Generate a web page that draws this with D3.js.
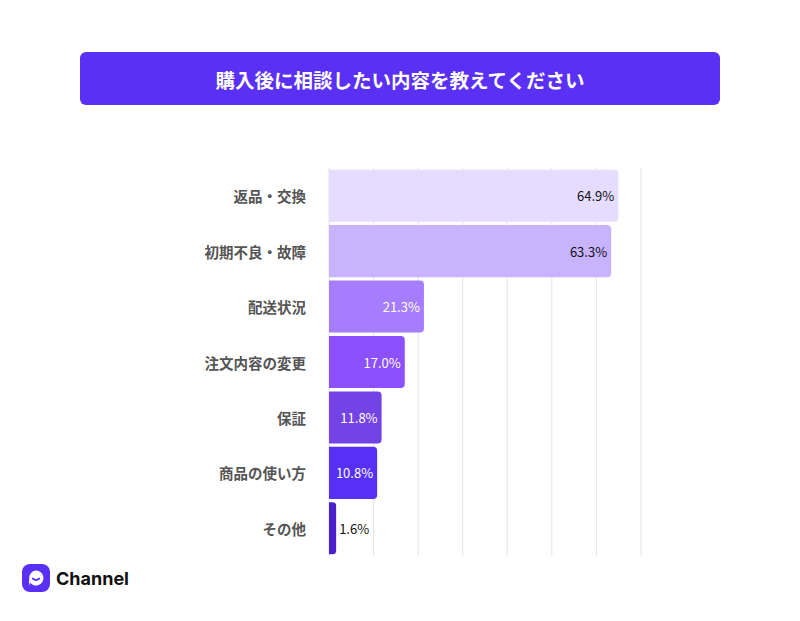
<!doctype html>
<meta charset="utf-8">
<script src="https://d3js.org/d3.v7.min.js"></script>
<style>
  body { margin: 0; background: #fff; }
  text { font-family: "Noto Sans CJK JP", "Noto Sans", sans-serif; }
</style>
<body></body>
<script>

var width = 800;
var height = 621;

var title = "購入後に相談したい内容を教えてください";
var categories = ["返品・交換", "初期不良・故障", "配送状況", "注文内容の変更", "保証", "商品の使い方", "その他"];
var values = [64.9, 63.3, 21.3, 17.0, 11.8, 10.8, 1.6];
var barColors = ["#e5dcff", "#c8b3ff", "#a77dff", "#8d50ff", "#7443e6", "#5631f5", "#4a20cc"];
var labelColors = ["#111", "#111", "#fff", "#fff", "#fff", "#fff", "#111"];
var gridTicks = [0, 10, 20, 30, 40, 50, 60, 70];

var svg = d3.select("body")
        .append("svg")
        .attr("width", width)
        .attr("height", height);

// title banner
svg.append("rect")
        .attr("x", 80)
        .attr("y", 52)
        .attr("width", 640)
        .attr("height", 53)
        .attr("rx", 6)
        .style("fill", "#5a30f4");

svg.append("text")
        .attr("x", 400)
        .attr("y", 79)
        .attr("text-anchor", "middle")
        .attr("dominant-baseline", "central")
        .style("fill", "#fff")
        .style("font-size", "19.5px")
        .style("font-weight", "700")
        .text(title);

var x = d3.scaleLinear()
        .domain([0, 70])
        .range([329, 641]);

var y = d3.scaleBand()
        .domain(categories)
        .range([168, 556])
        .paddingInner(0.06)
        .paddingOuter(0.03);

// grid lines
svg.append("g")
        .selectAll("line")
        .data(gridTicks)
        .enter()
        .append("line")
        .attr("x1", function(d){ return x(d); })
        .attr("x2", function(d){ return x(d); })
        .attr("y1", 168)
        .attr("y2", 556)
        .style("stroke", "#e4e4e4")
        .style("stroke-width", 1);

// bars, square on the left, rounded on the right
var r = 4;
function barPath(d, i){
    var x0 = x(0), x1 = x(d), y0 = y(categories[i]), h = y.bandwidth();
    var rr = Math.min(r, (x1 - x0) / 2);
    return "M" + x0 + "," + y0 +
        "H" + (x1 - rr) +
        "Q" + x1 + "," + y0 + " " + x1 + "," + (y0 + rr) +
        "V" + (y0 + h - rr) +
        "Q" + x1 + "," + (y0 + h) + " " + (x1 - rr) + "," + (y0 + h) +
        "H" + x0 + "Z";
}

svg.append("g")
        .selectAll("path")
        .data(values)
        .enter()
        .append("path")
        .attr("d", barPath)
        .style("fill", function(d, i){ return barColors[i]; });

// value labels
svg.append("g")
        .selectAll("text")
        .data(values)
        .enter()
        .append("text")
        .attr("x", function(d){ return d < 5 ? x(d) + 3 : x(d) - 4; })
        .attr("y", function(d, i){ return y(categories[i]) + y.bandwidth() / 2; })
        .attr("text-anchor", function(d){ return d < 5 ? "start" : "end"; })
        .attr("dominant-baseline", "central")
        .style("font-size", "13px")
        .style("fill", function(d, i){ return labelColors[i]; })
        .text(function(d){ return d.toFixed(1) + "%"; });

// category labels
svg.append("g")
        .selectAll("text")
        .data(categories)
        .enter()
        .append("text")
        .attr("x", 306)
        .attr("y", function(d){ return y(d) + y.bandwidth() / 2; })
        .attr("text-anchor", "end")
        .attr("dominant-baseline", "central")
        .style("font-size", "14.5px")
        .style("font-weight", "700")
        .style("fill", "#555")
        .text(function(d){ return d; });

// logo
var logo = svg.append("g").attr("transform", "translate(22,564)");
logo.append("rect")
        .attr("width", 28)
        .attr("height", 28)
        .attr("rx", 8)
        .style("fill", "#5a30f4");
logo.append("path")
        .attr("d", "M14,6.5 A7.5,7.5 0 1 1 8.2,18.8 L7,21.5 L7.2,15.5 A7.5,7.5 0 0 1 14,6.5 Z")
        .style("fill", "#fff");
logo.append("path")
        .attr("d", "M10.8,14.5 Q14,17.5 17.2,14.5")
        .style("fill", "none")
        .style("stroke", "#5a30f4")
        .style("stroke-width", 1.8)
        .style("stroke-linecap", "round");
svg.append("text")
        .attr("x", 56)
        .attr("y", 585)
        .style("font-family", "Inter, 'Noto Sans', sans-serif")
        .style("font-size", "18px")
        .style("font-weight", "700")
        .style("fill", "#111")
        .text("Channel");

</script>
